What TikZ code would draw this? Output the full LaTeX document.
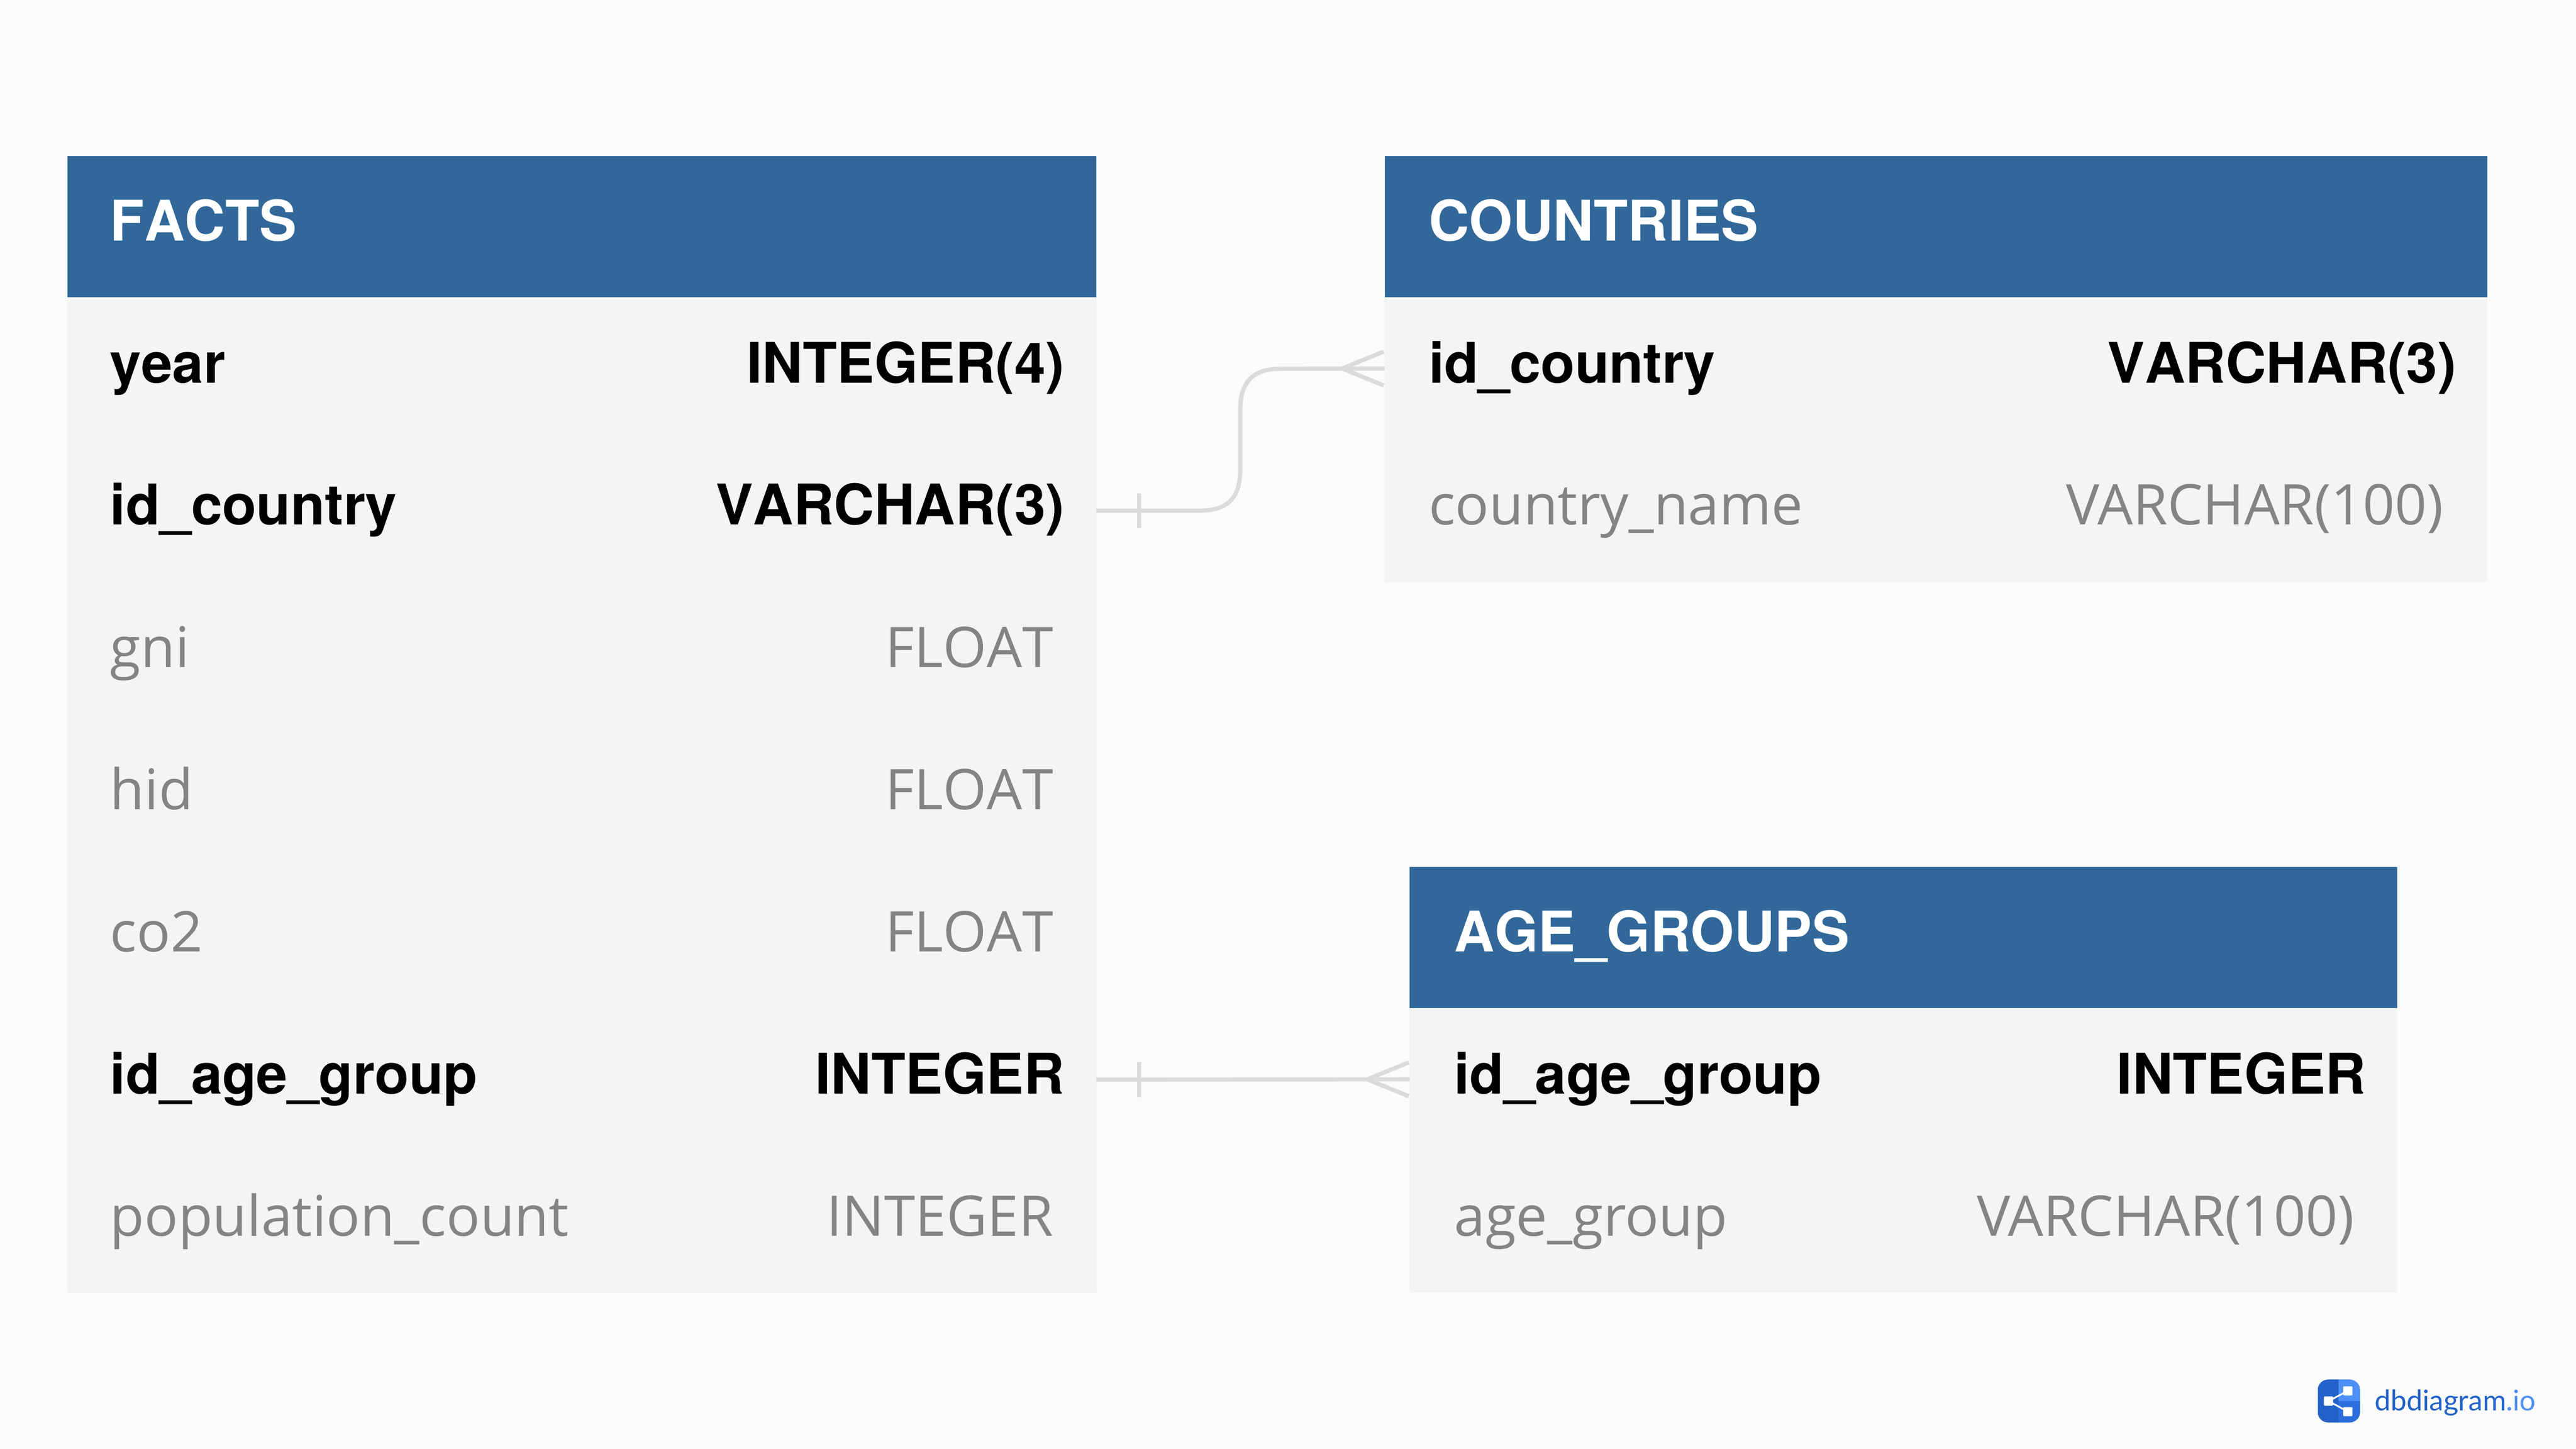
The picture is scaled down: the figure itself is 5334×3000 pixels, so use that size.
\documentclass[tikz,border=0pt]{standalone}
\usepackage{fontspec}
\newfontfamily\boldfam{TeX Gyre Heros}[Kerning=Off]
\newfontfamily\greyfam{Open Sans}[Kerning=Off]
\newfontfamily\logofam{Lato}
\newcommand{\floattxt}{F\kern0ptL\kern0ptO\kern0ptA\kern0ptT}
\definecolor{pagebg}{HTML}{FBFBFB}
\definecolor{rowbg}{HTML}{F4F4F4}
\definecolor{headbg}{HTML}{316899}
\definecolor{greytxt}{HTML}{848484}
\definecolor{relcol}{HTML}{DBDBDB}
\definecolor{logodark}{HTML}{2362C8}
\definecolor{logomid}{HTML}{2A6FDC}
\definecolor{logolight}{HTML}{4C8FF7}
\tikzset{
  x=1pt,y=-1pt,
  headbox/.style={rectangle,fill=headbg,inner sep=0pt,outer sep=0pt,anchor=north west,minimum height=293pt},
  rowbox/.style={rectangle,fill=rowbg,inner sep=0pt,outer sep=0pt,anchor=north west,minimum height=294.5pt},
  headtxt/.style={anchor=base west,inner sep=0pt,text=white,font=\boldfam\bfseries\fontsize{116}{130}\selectfont},
  keyname/.style={anchor=base west,inner sep=0pt,text=black,font=\boldfam\bfseries\fontsize{116}{130}\selectfont},
  keytype/.style={anchor=base east,inner sep=0pt,text=black,font=\boldfam\bfseries\fontsize{116}{130}\selectfont},
  plainname/.style={anchor=base west,inner sep=0pt,text=greytxt,font=\greyfam\fontsize{116}{130}\selectfont},
  plaintype/.style={anchor=base east,inner sep=0pt,text=greytxt,font=\greyfam\fontsize{116}{130}\selectfont},
  rel/.style={draw=relcol,line width=8.7pt,line join=round},
  logosq/.style={rectangle,fill=white,inner sep=0pt,outer sep=0pt,minimum width=19pt,minimum height=19pt,rounded corners=1.5pt},
}
\begin{document}
\begin{tikzpicture}
\useasboundingbox (0,0) rectangle (5334,3000);
\fill[pagebg] (0,0) rectangle (5334,3000);

% FACTS
\node[headbox,minimum width=2130pt] (fh) at (140,323) {};
\foreach \n/\y in {1/616,2/910.5,3/1205,4/1499.5,5/1794,6/2088.5,7/2383}
  \node[rowbox,minimum width=2130pt] (f\n) at (140,\y) {};
\node[headtxt] (fht) at (228,499) {FACTS};
\node[keyname] (fn1) at (228,793) {year};
\node[keytype] (ft1) at (2204,793) {INTEGER(4)};
\node[keyname] (fn2) at (228,1087) {id\_country};
\node[keytype] (ft2) at (2204,1087) {VARCHAR(3)};
\node[plainname] (fn3) at (228,1382) {gni};
\node[plaintype] (ft3) at (2181,1382) {\floattxt};
\node[plainname] (fn4) at (228,1676) {hid};
\node[plaintype] (ft4) at (2181,1676) {\floattxt};
\node[plainname] (fn5) at (228,1971) {co2};
\node[plaintype] (ft5) at (2181,1971) {\floattxt};
\node[keyname] (fn6) at (228,2265) {id\_age\_group};
\node[keytype] (ft6) at (2204,2265) {INTEGER};
\node[plainname] (fn7) at (228,2560) {population\_count};
\node[plaintype] (ft7) at (2181,2560) {INTEGER};

% COUNTRIES
\node[headbox,minimum width=2283pt] (ch) at (2867,323) {};
\foreach \n/\y in {1/616,2/910.5}
  \node[rowbox,minimum width=2283pt] (c\n) at (2867,\y) {};
\node[headtxt] (cht) at (2958,499) {COUNTRIES};
\node[keyname] (cn1) at (2958,793) {id\_country};
\node[keytype] (ct1) at (5086,793) {VARCHAR(3)};
\node[plainname] (cn2) at (2958,1087) {country\_name};
\node[plaintype] (ct2) at (5060,1087) {VARCHAR(100)};

% AGE_GROUPS
\node[headbox,minimum width=2045pt] (ah) at (2919,1795) {};
\foreach \n/\y in {1/2088,2/2382.5}
  \node[rowbox,minimum width=2045pt] (a\n) at (2919,\y) {};
\node[headtxt] (aht) at (3011,1971) {AGE\_GROUPS};
\node[keyname] (an1) at (3011,2265) {id\_age\_group};
\node[keytype] (at1) at (4899,2265) {INTEGER};
\node[plainname] (an2) at (3011,2560) {age\_group};
\node[plaintype] (at2) at (4875,2560) {VARCHAR(100)};

% relation FACTS.id_country - COUNTRIES.id_country
\draw[rel] (f2.east) -- ++(212,0) .. controls ++(62,0) and ++(0,57) .. ++(86,-85)
  -- ++(0,-123) .. controls ++(0,-57) and ++(-60,0) .. ++(84,-86) -- (c1.west);
\draw[rel] ([xshift=89pt,yshift=36pt]f2.east) -- ([xshift=89pt,yshift=-36pt]f2.east);
\draw[rel] ([xshift=-2pt,yshift=35pt]c1.west) -- ([xshift=-88pt]c1.west) -- ([xshift=-2pt,yshift=-35pt]c1.west);

% relation FACTS.id_age_group - AGE_GROUPS.id_age_group
\draw[rel] (f6.east) -- (a1.west);
\draw[rel] ([xshift=89pt,yshift=36pt]f6.east) -- ([xshift=89pt,yshift=-36pt]f6.east);
\draw[rel] ([xshift=-2pt,yshift=35pt]a1.west) -- ([xshift=-88pt]a1.west) -- ([xshift=-2pt,yshift=-35pt]a1.west);

% logo
\begin{scope}
\clip[rounded corners=22pt] (4799,2857) rectangle (4887,2946);
\fill[logodark] (4799,2857) rectangle (4842,2946);
\fill[logolight] (4842,2857) rectangle (4887,2902);
\fill[logomid] (4842,2902) rectangle (4887,2946);
\end{scope}
\node[logosq] (ls1) at (4821.5,2901.5) {};
\node[logosq] (ls2) at (4861.5,2880.5) {};
\node[logosq] (ls3) at (4861.5,2923.5) {};
\draw[white,line width=3.5pt] (ls1.center) -- (ls2.center) (ls1.center) -- (ls3.center);
\node[anchor=base west,inner sep=0pt,font=\logofam\fontsize{59}{64}\selectfont] (logotxt) at (4917,2921)
  {\textcolor{logodark}{dbdiagram}\textcolor{logolight}{.io}};
\end{tikzpicture}
\end{document}
